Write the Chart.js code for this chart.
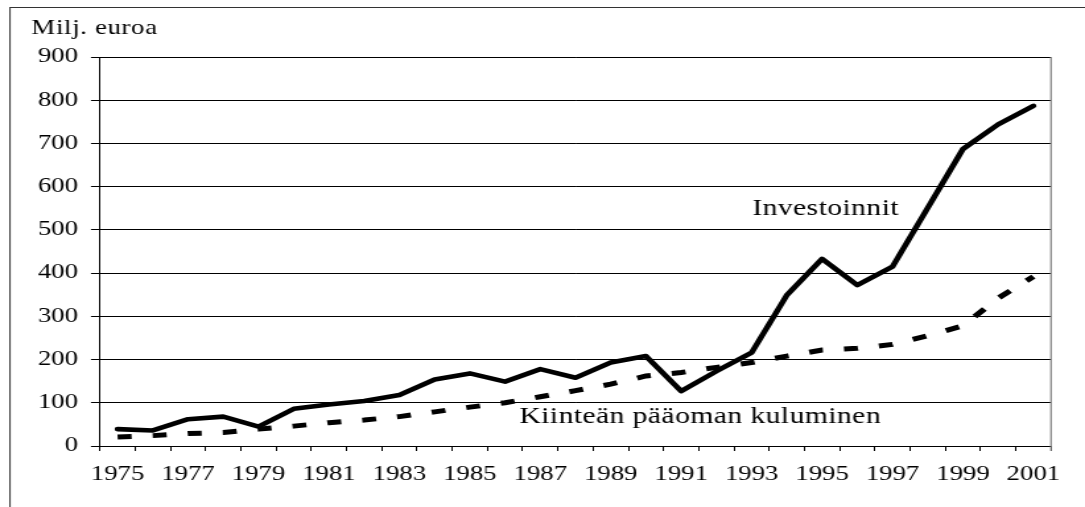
<!DOCTYPE html>
<html>
<head>
<meta charset="utf-8">
<script src="https://cdn.jsdelivr.net/npm/chart.js@4/dist/chart.umd.min.js"></script>
<style>
  html, body { margin: 0; padding: 0; background: #fff; overflow: hidden; }
  #wrap { width: 1085px; height: 507px; position: relative; overflow: hidden; }
  #c { position: absolute; left: 0; top: 0; transform-origin: 0 0; }
</style>
</head>
<body>
<div id="wrap"><canvas id="c"></canvas></div>
<script>
// ---- data ----
const years = ['1975','1976','1977','1978','1979','1980','1981','1982','1983','1984','1985','1986','1987','1988','1989','1990','1991','1992','1993','1994','1995','1996','1997','1998','1999','2000','2001'];
const investoinnit = [39,36,62,68,45,86,96,104,118,154,168,149,178,158,193,208,127,173,216,349,433,372,415,551,687,744,787];
const kuluminen = [21,24,29,31,39,46,54,60,68,79,90,100,114,128,143,162,170,182,193,208,222,226,235,255,278,342,392];
const yTicks = [0,100,200,300,400,500,600,700,800,900];
const yTitle = 'Milj. euroa';
const seriesNames = ['Investoinnit', 'Kiinteän pääoman kuluminen'];
// label anchors in data space (category index, value)
const labelIdx = [20.1, 16.54];
const labelVal = [548, 67];

// ---- geometry (the figure is horizontally stretched) ----
const FULL_W = 1085, H = 507;
const SX = 1.32;
const W = Math.round(FULL_W / SX);
const sx = FULL_W / W;
const plotLeft = 100 / sx, plotRight = 1051 / sx, plotTop = 57, plotBottom = 446;
const FONT = "'Liberation Serif', 'Times New Roman', serif";
const TICK_SIZE = 20.3;

const canvas = document.getElementById('c');
canvas.width = W; canvas.height = H;
canvas.style.width = W + 'px'; canvas.style.height = H + 'px';
canvas.style.transform = 'scaleX(' + sx + ')';

const decor = {
  id: 'decor',
  beforeDraw(chart) {
    const ctx = chart.ctx;
    ctx.save();
    ctx.fillStyle = '#fff';
    ctx.fillRect(0, 0, chart.width, chart.height);
    ctx.strokeStyle = '#333';
    ctx.lineWidth = 1;
    ctx.strokeRect(10 / sx, 7.5, chart.width + 50, chart.height + 50);
    ctx.restore();
  },
  afterDraw(chart) {
    const ctx = chart.ctx;
    const a = chart.chartArea;
    ctx.save();
    // right border of plot area (gray)
    ctx.strokeStyle = '#808080';
    ctx.lineWidth = 1.2;
    ctx.beginPath();
    ctx.moveTo(a.right, a.top);
    ctx.lineTo(a.right, a.bottom + 5);
    ctx.stroke();
    // title
    ctx.fillStyle = '#000';
    ctx.font = '20.3px ' + FONT;
    ctx.textAlign = 'left';
    ctx.textBaseline = 'alphabetic';
    ctx.letterSpacing = '0.5px';
    ctx.fillText(yTitle, 31.5 / sx, 34);
    ctx.letterSpacing = '0px';
    ctx.restore();
  },
  afterDatasetsDraw(chart) {
    const ctx = chart.ctx;
    const xs = chart.scales.x, ys = chart.scales.y;
    ctx.save();
    ctx.fillStyle = '#000';
    ctx.font = '22.5px ' + FONT;
    ctx.textAlign = 'center';
    ctx.textBaseline = 'middle';
    ctx.letterSpacing = '0.3px';
    for (let i = 0; i < seriesNames.length; i++) {
      ctx.fillText(seriesNames[i], xs.getPixelForValue(labelIdx[i]), ys.getPixelForValue(labelVal[i]));
    }
    ctx.letterSpacing = '0px';
    ctx.restore();
  }
};

new Chart(canvas, {
  type: 'line',
  data: {
    labels: years,
    datasets: [
      {
        label: seriesNames[0],
        data: investoinnit,
        borderColor: '#000',
        borderWidth: 4.6,
        pointRadius: 0,
        tension: 0,
        fill: false,
        borderJoinStyle: 'round',
        borderCapStyle: 'round'
      },
      {
        label: seriesNames[1],
        data: kuluminen,
        borderColor: '#000',
        borderWidth: 5,
        borderDash: [10.6, 16],
        pointRadius: 0,
        tension: 0,
        fill: false,
        borderJoinStyle: 'miter',
        borderCapStyle: 'butt'
      }
    ]
  },
  options: {
    responsive: false,
    animation: false,
    devicePixelRatio: 1,
    layout: { padding: { top: plotTop, right: W - plotRight, bottom: 0, left: 0 } },
    plugins: { legend: { display: false }, tooltip: { enabled: false }, title: { display: false } },
    scales: {
      x: {
        type: 'category',
        offset: true,
        grid: { offset: true, drawOnChartArea: false, drawTicks: true, tickLength: 5, color: '#000', lineWidth: 1 },
        border: { display: true, color: '#000', width: 1 },
        ticks: {
          autoSkip: false, maxRotation: 0, minRotation: 0,
          color: '#000', padding: 11.8,
          font: { family: FONT, size: TICK_SIZE },
          callback: function(v, i) { return i % 2 === 0 ? years[i] : ''; }
        },
        afterFit(scale) { scale.height = H - plotBottom; }
      },
      y: {
        min: 0, max: 900,
        afterBuildTicks(scale) { scale.ticks = yTicks.map(v => ({ value: v })); },
        grid: { color: '#000', lineWidth: 1, drawTicks: true, tickLength: 9 / sx },
        border: { display: true, color: '#000', width: 1 },
        ticks: {
          color: '#000', padding: 13 / sx,
          font: { family: FONT, size: TICK_SIZE }
        },
        afterFit(scale) { scale.width = plotLeft; }
      }
    }
  },
  plugins: [decor]
});
</script>
</body>
</html>
